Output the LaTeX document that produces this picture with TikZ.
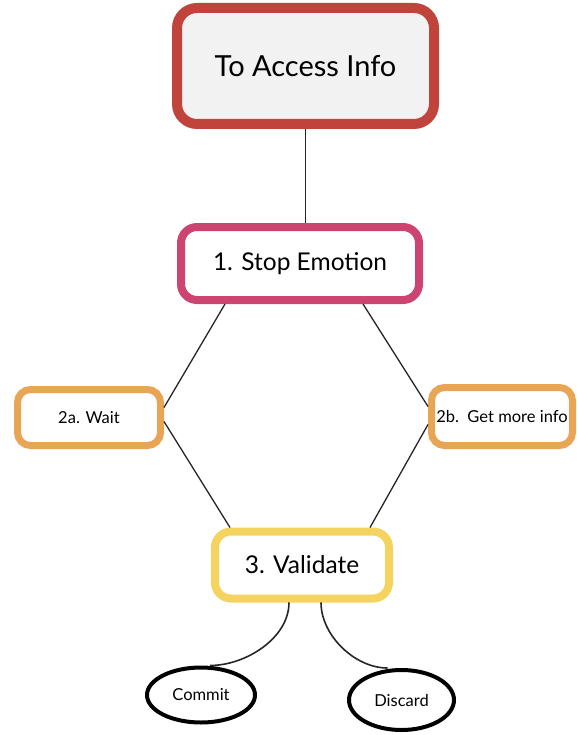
\documentclass[tikz,border=0pt]{standalone}
\usepackage{fontspec}
\setmainfont{Lato}
\usetikzlibrary{shapes.geometric}
\definecolor{topred}{HTML}{C0443B}
\definecolor{topfill}{HTML}{F2F2F2}
\definecolor{stoppink}{HTML}{CD4471}
\definecolor{steporange}{HTML}{E9A556}
\definecolor{valyellow}{HTML}{F4D35E}
\tikzset{
  box/.style={draw, rounded corners=16pt, fill=white, inner sep=0pt, align=center},
  optbox/.style={box, draw=steporange, line width=7pt, rounded corners=13pt, font=\fontsize{16.5}{19}\selectfont},
  endoval/.style={draw=black, ellipse, line width=4pt, inner sep=0pt, font=\fontsize{16.5}{19}\selectfont},
  link/.style={draw=black!85, line width=1.3pt},
}
\begin{document}
\begin{tikzpicture}[x=1pt,y=-1pt]
\useasboundingbox (0,0) rectangle (577,735);

% title box and the main steps
\node[box, draw=topred, fill=topfill, line width=10pt, rounded corners=20pt,
      minimum width=257pt, minimum height=116pt, font=\fontsize{29}{34}\selectfont]
  (top) at (305.5,66) {To Access Info};
\node[box, draw=stoppink, line width=8pt,
      minimum width=238pt, minimum height=73pt, font=\fontsize{24.5}{29}\selectfont]
  (stop) at (300,263.5) {1. Stop Emotion};
\node[optbox, minimum width=143pt, minimum height=56pt]
  (wait) at (89,417.5) {2a. Wait};
\node[optbox, minimum width=141pt, minimum height=58pt]
  (info) at (502,416.5) {2b.\ \ Get more info};
\node[box, draw=valyellow, line width=8pt,
      minimum width=174pt, minimum height=67pt, font=\fontsize{24.5}{29}\selectfont]
  (val) at (302,565) {3. Validate};
\node[endoval, minimum width=108pt, minimum height=55pt] (commit) at (201,695) {Commit};
\node[endoval, minimum width=105pt, minimum height=60pt] (discard) at (401.5,700) {Discard};

% connectors
\draw[link] (top.south) -- (top.south |- stop.north);
\draw[link] ([xshift=-75pt]stop.south) -- ([yshift=10pt]wait.east);
\draw[link] ([yshift=-4pt]wait.east) -- ([xshift=-72pt]val.north);
\draw[link] ([xshift=63pt]stop.south) -- ([yshift=10pt]info.west);
\draw[link] ([yshift=-8pt]info.west) -- ([xshift=68pt]val.north);
\draw[link, line width=1.6pt] ([xshift=-13pt]val.south) to[out=-90, in=0, looseness=0.9] ([xshift=9pt]commit.north);
\draw[link, line width=1.6pt] ([xshift=19pt]val.south) to[out=-90, in=180, looseness=0.9] ([xshift=-14pt]discard.north);
\end{tikzpicture}
\end{document}
